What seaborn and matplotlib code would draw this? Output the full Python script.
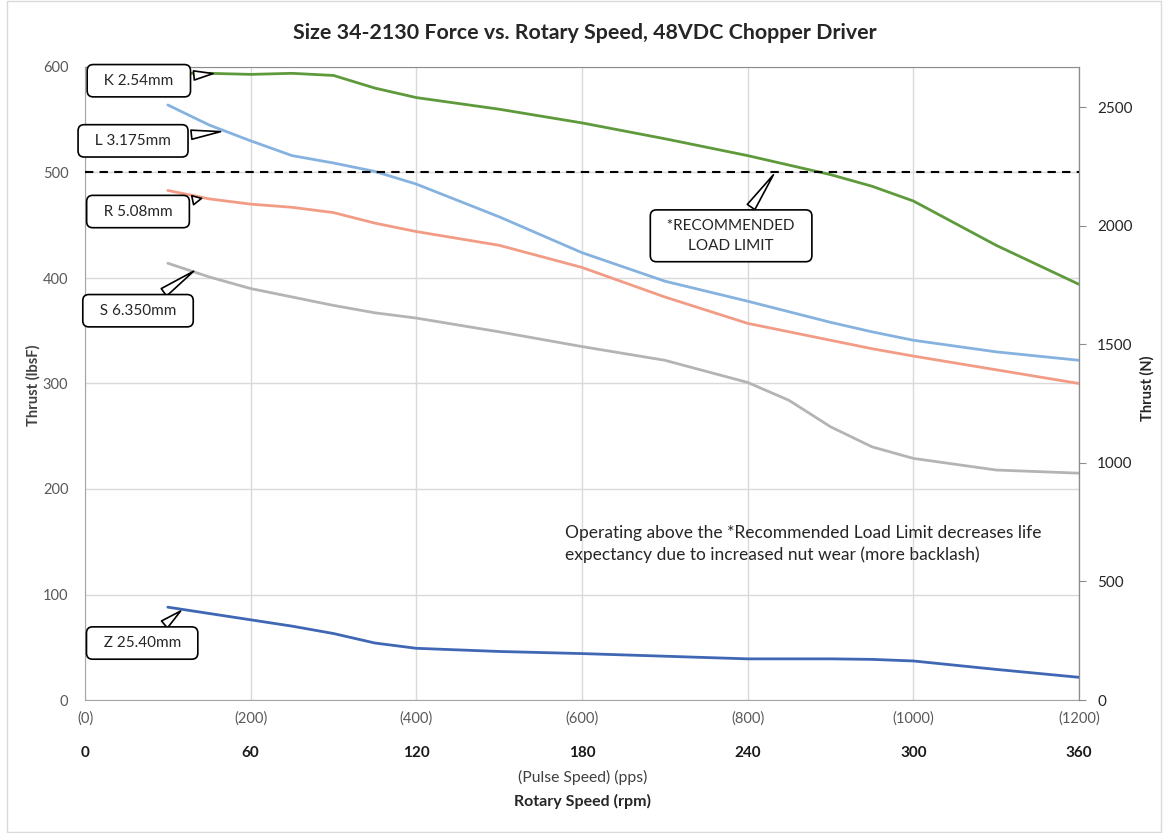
import pandas as pd
import matplotlib.pyplot as plt
import matplotlib.patches as mpatches
import seaborn as sns

# Pulse speed (pps) sample points
pps = [100, 150, 200, 250, 300, 350, 400, 500, 600, 700, 800, 850, 900, 950, 1000, 1100, 1200]

# Thrust (lbsF) for each lead screw
k_254 = [594, 594, 593, 594, 592, 580, 571, 560, 547, 532, 516, 507, 498, 487, 473, 431, 394]
l_3175 = [564, 545, 530, 516, 509, 501, 489, 458, 424, 397, 378, 368, 358, 349, 341, 330, 322]
r_508 = [483, 475, 470, 467, 462, 452, 444, 431, 410, 382, 357, 349, 341, 333, 326, 313, 300]
s_635 = [414, 401, 390, 382, 374, 367, 362, 349, 335, 322, 301, 284, 259, 240, 229, 218, 215]
z_2540 = [88, 82, 76, 70, 63, 54, 49, 46, 44, 41.5, 39, 39, 39, 38.5, 37, 29, 21.5]

series_names = ['K 2.54mm', 'L 3.175mm', 'R 5.08mm', 'S 6.350mm', 'Z 25.40mm']
series_colors = ['#5e9a3c', '#86b2e0', '#f29c86', '#b4b4b4', '#3f67b3']
load_limit = 500

pps_ticks = [0, 200, 400, 600, 800, 1000, 1200]
rpm_ticks = [0, 60, 120, 180, 240, 300, 360]
newton_ticks = [0, 500, 1000, 1500, 2000, 2500]

rows = []
for name, vals in zip(series_names, [k_254, l_3175, r_508, s_635, z_2540]):
    for x, y in zip(pps, vals):
        rows.append({'pps': x, 'thrust': y, 'screw': name})
df = pd.DataFrame(rows)

sns.set_style('white')
plt.rcParams['font.family'] = ['Lato', 'DejaVu Sans']

fig = plt.figure(figsize=(11.63, 8.33), dpi=100)
ax = fig.add_axes([85 / 1163, 133 / 833, 994 / 1163, 633 / 833])

sns.lineplot(data=df, x='pps', y='thrust', hue='screw', palette=series_colors,
             linewidth=2.0, legend=False, ax=ax, zorder=3)
ax.axhline(load_limit, color='black', linestyle=(0, (4, 3)), linewidth=1.5, zorder=4)

ax.set_xlim(0, 1200)
ax.set_ylim(0, 600)
ax.set_xticks(pps_ticks)
ax.set_xticklabels([f'({t})' for t in pps_ticks])
ax.set_yticks(range(0, 601, 100))
ax.grid(True, color='#d9d9d9', linewidth=1.0, zorder=0)
ax.set_axisbelow(True)
ax.tick_params(axis='both', length=0, labelsize=10.5, labelcolor='#595959')
ax.tick_params(axis='x', pad=8)
ax.tick_params(axis='y', pad=12)
ax.set_xlabel('')
ax.set_ylabel('')
for side in ['left', 'bottom']:
    ax.spines[side].set_color('#a6a6a6')
ax.spines['top'].set_color('#8c8c8c')

# secondary axis in Newtons
ax2 = ax.twinx()
ax2.set_ylim(0, 600 * 4.448222)
ax2.set_yticks(newton_ticks)
ax2.tick_params(axis='y', length=5, color='#8c8c8c', labelsize=11, labelcolor='#262626', pad=8)
ax2.spines['right'].set_color('#8c8c8c')
for side in ['left', 'bottom', 'top']:
    ax2.spines[side].set_visible(False)

# rotary speed row under the pulse speed labels
sec = ax.secondary_xaxis(-0.065, functions=(lambda x: x * 0.3, lambda x: x / 0.3))
sec.set_xticks(rpm_ticks)
sec.tick_params(length=0, labelsize=11, labelcolor='#1a1a1a')
for lbl in sec.get_xticklabels():
    lbl.set_fontweight('bold')
sec.spines['bottom'].set_visible(False)

# callouts
box = dict(boxstyle='round,pad=0.6,rounding_size=0.4', fc='white', ec='black', lw=1.2)
arrow = dict(arrowstyle='wedge,tail_width=0.6,shrink_factor=0.5', fc='white', ec='black', lw=1.2)
callouts = [
    ('  K 2.54mm  ', (158, 594), (65, 587)),
    ('  L 3.175mm  ', (167, 539), (58, 530)),
    ('  R 5.08mm  ', (144, 476), (64, 463)),
    ('  S 6.350mm  ', (134, 408), (64, 369)),
    ('  Z 25.40mm  ', (118, 86), (69, 54)),
    ('  *RECOMMENDED  \nLOAD LIMIT', (833, 500), (780, 440)),
]
for text, tip, pos in callouts:
    ax.annotate(text, xy=tip, xytext=pos, ha='center', va='center', fontsize=11,
                color='#262626', bbox=box, arrowprops=arrow, zorder=6,
                linespacing=1.5, multialignment='center')

fig.text(565 / 1163, 1 - 544 / 833,
         'Operating above the *Recommended Load Limit decreases life\n'
         'expectancy due to increased nut wear (more backlash)',
         ha='left', va='center', fontsize=12.5, color='#262626', linespacing=1.45)

fig.text(585 / 1163, 1 - 33 / 833, 'Size 34-2130 Force vs. Rotary Speed, 48VDC Chopper Driver',
         ha='center', va='center', fontsize=15.4, fontweight='bold', color='#262626')
fig.text(33 / 1163, 1 - 385 / 833, 'Thrust (lbsF)', rotation=90, ha='center', va='center',
         fontsize=10.6, fontweight='bold', color='#404040')
fig.text(1147 / 1163, 1 - 388 / 833, 'Thrust (N)', rotation=90, ha='center', va='center',
         fontsize=10.5, fontweight='bold', color='#262626')
fig.text(583 / 1163, 1 - 777 / 833, '(Pulse Speed) (pps)', ha='center', va='center',
         fontsize=11.3, color='#404040')
fig.text(582 / 1163, 1 - 801 / 833, 'Rotary Speed (rpm)', ha='center', va='center',
         fontsize=11.5, fontweight='bold', color='#262626')

# light frame round the whole chart
fig.patches.append(mpatches.Rectangle((7 / 1163, 1 / 833), 1154 / 1163, 831 / 833,
                                      transform=fig.transFigure, fill=False,
                                      ec='#d9d9d9', lw=1.0))

fig.savefig('out.png', dpi=100)
